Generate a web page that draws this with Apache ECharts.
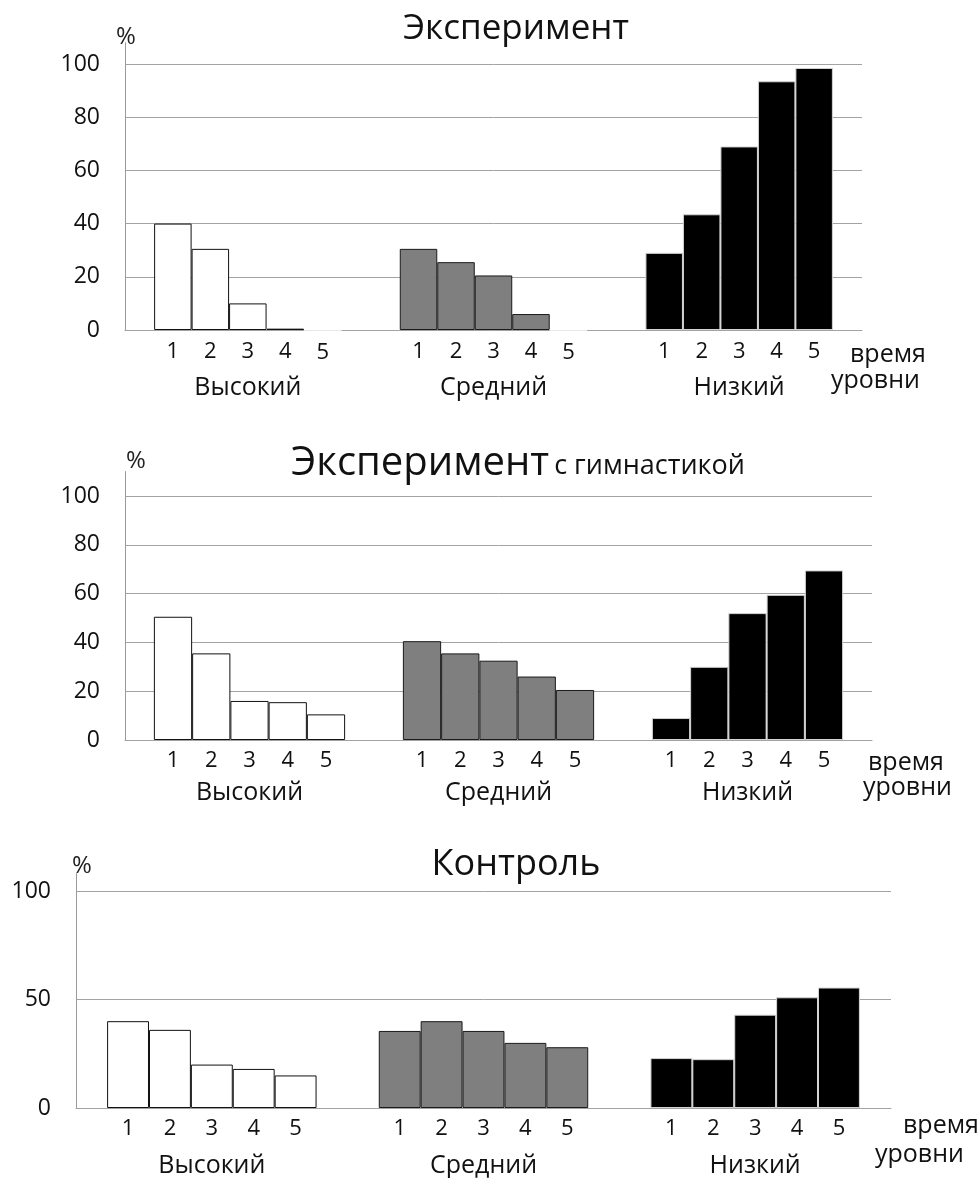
<!DOCTYPE html>
<html>
<head>
<meta charset="utf-8">
<script src="https://cdn.jsdelivr.net/npm/echarts@6/dist/echarts.min.js"></script>
<style>
html,body{margin:0;padding:0;background:#fff;}
#c{width:978px;height:1178px;}
</style>
</head>
<body>
<div id="c"></div>
<script>
// ---- data ----
const groups = ['Высокий', 'Средний', 'Низкий'];
const times = ['1', '2', '3', '4', '5'];

const exp1High = [40, 30.5, 10, 0.5, 0];
const exp1Mid  = [30.5, 25.5, 20.5, 6, 0];
const exp1Low  = [29, 43.5, 69, 93.5, 98.5];

const gymHigh = [50.5, 35.5, 16, 15.5, 10.5];
const gymMid  = [40.5, 35.5, 32.5, 26, 20.5];
const gymLow  = [9, 30, 52, 59.5, 69.5];

const ctrlHigh = [40, 36, 20, 18, 15];
const ctrlMid  = [35.5, 40, 35.5, 30, 28];
const ctrlLow  = [23, 22.5, 43, 51, 55.5];

const yTicks1 = [0, 20, 40, 60, 80, 100];
const yTicks3 = [0, 50, 100];

// ---- styles ----
const FONT = "'Open Sans', 'Noto Sans', sans-serif";
const fills = ['#ffffff', '#7f7f7f', '#000000'];
const borders = ['#111111', '#1a1a1a', '#d4d4d4'];
const gridColor = '#a3a3a3';

const panels = [
  { high: exp1High, mid: exp1Mid, low: exp1Low, grid: {left: 125, right: 116, top: 42.7, bottom: 848}, max: 108, interval: 20, gap: '23.7%', numDist: 11, catMargin: 45 },
  { high: gymHigh, mid: gymMid, low: gymLow, grid: {left: 125, right: 106, top: 471.6, bottom: 438}, max: 110, interval: 20, gap: '23.2%', numDist: 10, catMargin: 40 },
  { high: ctrlHigh, mid: ctrlMid, low: ctrlLow, grid: {left: 76, right: 87, top: 873.6, bottom: 70}, max: 108, interval: 50, gap: '22.9%', numDist: 10, catMargin: 45 }
];
const percentName = [
  { gap: -6, pad: [0, 0, 0, 2] },
  { gap: -2, pad: [0, 0, 0, 22] },
  { gap: -5, pad: [0, 0, 0, 12] }
];

const grid = [], xAxis = [], yAxis = [], series = [];
panels.forEach((p, pi) => {
  grid.push(p.grid);
  xAxis.push({
    type: 'category', gridIndex: pi, data: groups,
    axisTick: {show: false},
    axisLine: {show: true, lineStyle: {color: gridColor, width: 1}},
    axisLabel: {margin: p.catMargin, fontSize: 25, color: '#111', fontFamily: FONT}
  });
  const ticks = p.interval === 50 ? yTicks3 : yTicks1;
  yAxis.push({
    type: 'value', gridIndex: pi, min: 0, max: p.max, interval: p.interval,
    name: '%', nameLocation: 'end', nameGap: percentName[pi].gap,
    nameTextStyle: {fontSize: 24, color: '#222', fontFamily: FONT, padding: percentName[pi].pad},
    axisLine: {show: true, lineStyle: {color: '#9a9a9a', width: 1}},
    axisTick: {show: false},
    axisLabel: {
      margin: 25, fontSize: 23, color: '#111', fontFamily: FONT,
      showMaxLabel: false,
      formatter: v => (ticks.indexOf(v) >= 0 ? String(v) : '')
    },
    splitLine: {show: true, showMaxLine: false, lineStyle: {color: gridColor, width: 1}}
  });
  const rows = [p.high, p.mid, p.low];
  times.forEach((t, ti) => {
    series.push({
      type: 'bar', name: t, xAxisIndex: pi, yAxisIndex: pi,
      barGap: '0%', barCategoryGap: p.gap,
      data: rows.map((r, gi) => ({
        value: r[ti],
        itemStyle: {
          color: fills[gi],
          borderColor: r[ti] === 0 ? '#ffffff' : borders[gi],
          borderWidth: 1
        }
      })),
      label: {
        show: true, position: 'bottom', distance: p.numDist,
        formatter: t, fontSize: 22, color: '#111', fontFamily: FONT
      },
      silent: true
    });
  });
});

const title = [
  { text: 'Эксперимент', left: 511, top: 7, textAlign: 'center',
    textStyle: {fontSize: 35, fontWeight: 'normal', color: '#111', fontFamily: FONT} },
  { text: '{a|Эксперимент} {b|с гимнастикой}', left: 513, top: 431, textAlign: 'center',
    textStyle: {fontWeight: 'normal', rich: {
      a: {fontSize: 40, lineHeight: 48, verticalAlign: 'bottom', fontWeight: 'normal', color: '#111', fontFamily: FONT},
      b: {fontSize: 27, lineHeight: 48, verticalAlign: 'bottom', fontWeight: 'normal', color: '#111', fontFamily: FONT, padding: [0, 0, 4, 0]}
    }} },
  { text: 'Контроль', left: 511, top: 842, textAlign: 'center',
    textStyle: {fontSize: 36, fontWeight: 'normal', color: '#111', fontFamily: FONT} }
];

const sideText = (txt, x, y) => ({
  type: 'text', left: x, top: y - 15,
  style: {text: txt, fontSize: 25, fill: '#111', fontFamily: FONT}
});
const graphic = [
  sideText('время', 850, 357), sideText('уровни', 831, 383),
  sideText('время', 868, 765), sideText('уровни', 863, 790),
  sideText('время', 903, 1128), sideText('уровни', 875, 1157)
];

const chart = echarts.init(document.getElementById('c'));
chart.setOption({
  animation: false,
  backgroundColor: '#ffffff',
  title, grid, xAxis, yAxis, series, graphic
});
</script>
</body>
</html>
